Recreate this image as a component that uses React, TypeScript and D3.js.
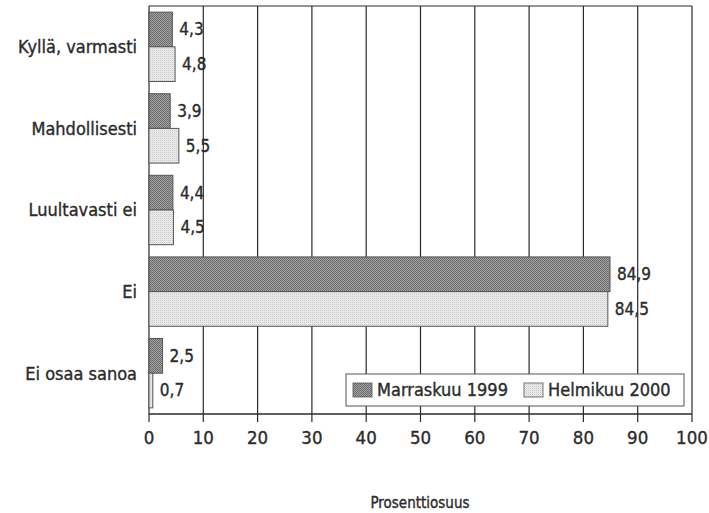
import React from "react";
import * as d3 from "d3";

const categories = ["Kyllä, varmasti", "Mahdollisesti", "Luultavasti ei", "Ei", "Ei osaa sanoa"];
const seriesNames = ["Marraskuu 1999", "Helmikuu 2000"];
const marraskuu1999 = [4.3, 3.9, 4.4, 84.9, 2.5];
const helmikuu2000 = [4.8, 5.5, 4.5, 84.5, 0.7];
const xTicks = [0, 10, 20, 30, 40, 50, 60, 70, 80, 90, 100];
const xTitle = "Prosenttiosuus";

const W = 709;
const H = 513;
const left = 149;
const right = 692;
const top = 6;
const bottom = 414;
const FONT = "'Liberation Sans Narrow', 'DejaVu Sans Condensed', 'Arial Narrow', sans-serif";
const fmt = (v: number) => v.toFixed(1).replace(".", ",");

export default function App() {
  const x = d3.scaleLinear().domain([0, 100]).range([left, right]);
  const y = d3.scaleBand<string>().domain(categories).range([top, bottom]).paddingInner(0.15).paddingOuter(0.075);
  const sub = d3.scaleBand<number>().domain([0, 1]).range([0, y.bandwidth()]);
  const series = [marraskuu1999, helmikuu2000];
  const fills = ["url(#pDark)", "url(#pLight)"];
  const ink = "#2a2a2a";
  const txt = { fill: "#2b2b2b", stroke: "#2b2b2b", strokeWidth: 0.35 };

  return (
    <svg width={W} height={H} style={{ position: "absolute", left: 0, top: 0, background: "#fff" }} fontFamily={FONT}>
      <defs>
        <pattern id="pDark" width="2" height="2" patternUnits="userSpaceOnUse">
          <rect width="2" height="2" fill="#a4a4a4" />
          <rect width="1" height="1" fill="#6a6a6a" />
          <rect x="1" y="1" width="1" height="1" fill="#6a6a6a" />
        </pattern>
        <pattern id="pLight" width="2" height="2" patternUnits="userSpaceOnUse">
          <rect width="2" height="2" fill="#efefef" />
          <rect width="1" height="1" fill="#c8c8c8" />
          <rect x="1" y="1" width="1" height="1" fill="#dedede" />
        </pattern>
      </defs>
      <rect width={W} height={H} fill="#fff" />
      {xTicks.map((t) => (
        <line key={"g" + t} x1={x(t)} x2={x(t)} y1={top} y2={bottom + 8} stroke={ink} strokeWidth={1.2} />
      ))}
      <line x1={left} x2={right} y1={top} y2={top} stroke={ink} strokeWidth={1.2} />
      <line x1={left} x2={right} y1={bottom} y2={bottom} stroke={ink} strokeWidth={1.4} />
      {categories.map((c, i) => (
        <g key={c}>
          {series.map((s, k) => (
            <rect
              key={k}
              x={x(0)}
              y={(y(c) as number) + (sub(k) as number)}
              width={x(s[i]) - x(0)}
              height={sub.bandwidth()}
              fill={fills[k]}
              stroke="#555"
              strokeWidth={1}
            />
          ))}
          {series.map((s, k) => (
            <text
              key={"l" + k}
              x={x(s[i]) + 7}
              y={(y(c) as number) + (sub(k) as number) + sub.bandwidth() / 2}
              dy="0.35em"
              fontSize={17}
              {...txt}
            >
              {fmt(s[i])}
            </text>
          ))}
          <text
            x={137}
            y={(y(c) as number) + y.bandwidth() / 2}
            dy="0.35em"
            textAnchor="end"
            fontSize={18}
            {...txt}
          >
            {c}
          </text>
        </g>
      ))}
      {xTicks.map((t) => (
        <text key={"t" + t} x={x(t)} y={438} dy="0.35em" textAnchor="middle" fontSize={18.5} {...txt}>
          {t}
        </text>
      ))}
      <g>
        <rect x={346} y={374} width={338} height={32} fill="#fff" stroke="#555" strokeWidth={1} />
        <rect x={353} y={383} width={19} height={14} fill={fills[0]} stroke="#555" strokeWidth={0.8} />
        <text x={377} y={390} dy="0.35em" fontSize={18} {...txt}>{seriesNames[0]}</text>
        <rect x={524} y={383} width={19} height={14} fill={fills[1]} stroke="#555" strokeWidth={0.8} />
        <text x={548} y={390} dy="0.35em" fontSize={18} {...txt}>{seriesNames[1]}</text>
      </g>
      <text x={420} y={503} dy="0.35em" textAnchor="middle" fontSize={15} {...txt}>
        {xTitle}
      </text>
    </svg>
  );
}
